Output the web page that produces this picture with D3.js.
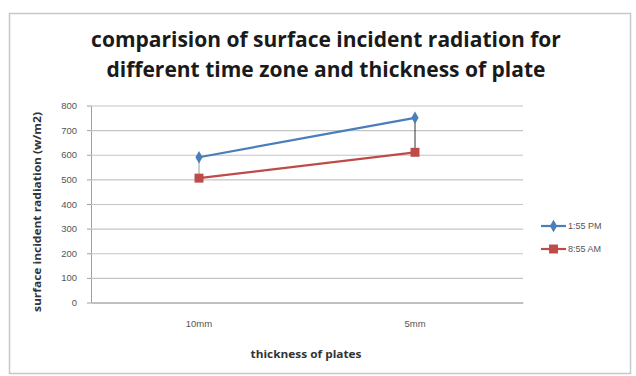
<!DOCTYPE html>
<html>
<head>
<meta charset="utf-8">
<script src="https://cdn.jsdelivr.net/npm/d3@7"></script>
<style>
body { margin: 0; background: #fff; }
svg { display: block; }
</style>
</head>
<body>
<svg></svg>
<script>
let width = 636;
let height = 376;

let categories = ["10mm", "5mm"];
let seriesNames = ["1:55 PM", "8:55 AM"];
let pmValues = [590, 750];
let amValues = [505, 610];
let yTicks = [0, 100, 200, 300, 400, 500, 600, 700, 800];

let colors = ["#4a7ebb", "#be4b48"];
let margin = { left: 91, right: 113, top: 105.5, bottom: 73.5 };

let series = seriesNames.map((name, i) => ({
    name: name,
    values: [pmValues, amValues][i],
    color: colors[i],
    shape: i === 0 ? d3.symbolDiamond : d3.symbolSquare
}));

let markerSize = s => s === d3.symbolSquare ? 80 : 45;

let svg = d3.select("svg")
            .attr("width", width)
            .attr("height", height);

// outer frame
svg.append("rect")
    .attr("x", 9.5)
    .attr("y", 13.5)
    .attr("width", 621)
    .attr("height", 360)
    .attr("fill", "#fff")
    .attr("stroke", "#c8c8c8")
    .attr("stroke-width", 1.5);

let xScale = d3.scaleBand()
                .domain(categories)
                .range([margin.left, width - margin.right]);

let yScale = d3.scaleLinear()
                .domain([0, 800])
                .range([height - margin.bottom, margin.top]);

let yAxis = d3.axisLeft(yScale)
                .tickValues(yTicks)
                .tickSize(-(width - margin.left - margin.right))
                .tickPadding(14)
                .tickSizeOuter(0);

let gy = svg.append("g")
    .attr("transform", "translate(" + margin.left + ", 0)")
    .call(yAxis);
gy.select(".domain").attr("stroke", "#a0a0a0");
gy.selectAll(".tick line").attr("stroke", "#c4c4c4").attr("stroke-width", 1.2);
gy.selectAll(".tick text")
    .attr("fill", "#555")
    .style("font-family", "Liberation Sans, Arial, sans-serif")
    .style("font-size", "9.5px");

// short tick marks left of axis
gy.selectAll(".tick").append("line")
    .attr("x1", -4)
    .attr("x2", 0)
    .attr("stroke", "#a0a0a0");

let xAxis = d3.axisBottom(xScale)
                .tickSize(0)
                .tickPadding(18);

let gx = svg.append("g")
    .attr("transform", "translate(0, " + (height - margin.bottom) + ")")
    .call(xAxis);
gx.select(".domain").attr("stroke", "#a0a0a0");
gx.selectAll(".tick text")
    .attr("fill", "#555")
    .style("font-family", "Liberation Sans, Arial, sans-serif")
    .style("font-size", "9.5px");

// high-low lines between the two series
svg.selectAll(".hilo")
    .data(categories)
    .enter()
    .append("line")
    .attr("class", "hilo")
    .attr("x1", d => xScale(d) + xScale.bandwidth() / 2)
    .attr("x2", d => xScale(d) + xScale.bandwidth() / 2)
    .attr("y1", (d, i) => yScale(pmValues[i]))
    .attr("y2", (d, i) => yScale(amValues[i]))
    .attr("stroke", (d, i) => i === 0 ? "#8aa88a" : "#333")
    .attr("stroke-width", 1);

let line = d3.line()
    .x((d, i) => xScale(categories[i]) + xScale.bandwidth() / 2)
    .y(d => yScale(d));

series.forEach(s => {
    svg.append("path")
        .attr("d", line(s.values))
        .attr("fill", "none")
        .attr("stroke", s.color)
        .attr("stroke-width", 2.2);

    svg.selectAll(null)
        .data(s.values)
        .enter()
        .append("path")
        .attr("transform", (d, i) => "translate(" + (xScale(categories[i]) + xScale.bandwidth() / 2) + "," + yScale(d) + ")")
        .attr("d", d3.symbol().type(s.shape).size(markerSize(s.shape)))
        .attr("fill", s.color);
});

// legend
let legend = svg.selectAll(".legend")
    .data(series)
    .enter()
    .append("g")
    .attr("class", "legend")
    .attr("transform", (d, i) => "translate(541, " + (226 + i * 23) + ")");

legend.append("line")
    .attr("x1", 0)
    .attr("x2", 25)
    .attr("stroke", d => d.color)
    .attr("stroke-width", 2.2);

legend.append("path")
    .attr("transform", "translate(12.5, 0)")
    .attr("d", d => d3.symbol().type(d.shape).size(markerSize(d.shape))())
    .attr("fill", d => d.color);

legend.append("text")
    .attr("x", 27)
    .attr("dy", "0.35em")
    .attr("fill", "#555")
    .style("font-family", "Liberation Sans, Arial, sans-serif")
    .style("font-size", "9px")
    .text(d => d.name);

// title
let title = svg.append("text")
    .attr("y", 47)
    .style("text-anchor", "middle")
    .style("font-family", "Open Sans, sans-serif")
    .style("font-weight", "bold")
    .style("font-size", "21px")
    .attr("fill", "#1a1a1a");
title.append("tspan").attr("x", 326).text("comparision of surface incident radiation for");
title.append("tspan").attr("x", 326).attr("dy", 30).text("different time zone and thickness of plate");

// axis titles
svg.append("text")
    .attr("x", 306)
    .attr("y", 358)
    .style("text-anchor", "middle")
    .style("font-family", "Open Sans, sans-serif")
    .style("font-weight", "bold")
    .style("font-size", "10.5px")
    .attr("textLength", 111)
    .attr("lengthAdjust", "spacingAndGlyphs")
    .attr("fill", "#333")
    .text("thickness of plates");

svg.append("text")
    .attr("transform", "rotate(-90)")
    .attr("x", -212)
    .attr("y", 41)
    .style("text-anchor", "middle")
    .style("font-family", "Open Sans, sans-serif")
    .style("font-weight", "bold")
    .style("font-size", "10.5px")
    .attr("textLength", 200)
    .attr("lengthAdjust", "spacingAndGlyphs")
    .attr("fill", "#333")
    .text("surface incident radiation  (w/m2)");
</script>
</body>
</html>
